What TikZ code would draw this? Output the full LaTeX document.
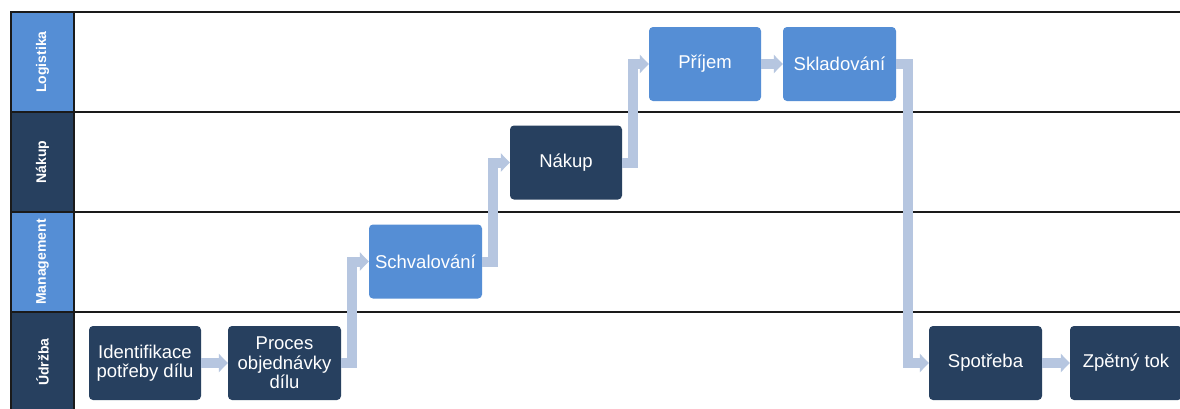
\documentclass[tikz,border=0pt]{standalone}
\usepackage{fontspec}
\setmainfont{Liberation Sans}
\usetikzlibrary{arrows.meta,calc}
\definecolor{laneDark}{HTML}{27405F}
\definecolor{laneLight}{HTML}{558ED5}
\definecolor{flowBlue}{HTML}{B6C6E0}
\definecolor{laneRule}{HTML}{1A1A1A}
\begin{document}
\begin{tikzpicture}[x=1pt,y=-1pt,
  lanehead/.style={rotate=90, draw=laneRule, line width=1.5pt, minimum width=100pt,
    minimum height=63pt, inner sep=0pt, text=white, font=\fontsize{14}{16}\selectfont\bfseries},
  laneline/.style={draw=laneRule, line width=1.8pt},
  stepbox/.style={rounded corners=4pt, minimum width=113pt, minimum height=74pt,
    inner sep=0pt, text=white, align=center, font=\fontsize{18.5}{19.5}\selectfont},
  darkbox/.style={stepbox, fill=laneDark},
  lightbox/.style={stepbox, fill=laneLight},
  flow/.style={draw=flowBlue, line width=10pt, line join=miter,
    -{Triangle[width=18pt,length=9pt]}}]
\clip (0,0) rectangle (1180,408);
\fill[white] (0,0) rectangle (1180,408);

% swimlane rules
\draw[laneline] (10,12) -- (1182,12);
\draw[laneline] (10,112) -- (1182,112);
\draw[laneline] (10,212) -- (1182,212);
\draw[laneline] (10,312) -- (1182,312);

% lane headers
\node[lanehead, fill=laneLight] (hLog) at (42.5,62) {Logistika};
\node[lanehead, fill=laneDark]  (hNak) at (42.5,162) {Nákup};
\node[lanehead, fill=laneLight] (hMan) at (42.5,262) {Management};
\node[lanehead, fill=laneDark]  (hUdr) at (42.5,362) {Údržba};

% process steps
\node[darkbox, minimum width=112pt] (ident) at (145,363) {Identifikace\\potřeby dílu};
\node[darkbox]  (proces)   at (284.5,363) {Proces\\objednávky\\dílu};
\node[lightbox] (schval)   at (425.5,261.5) {Schvalování};
\node[darkbox, minimum width=112pt] (nakup) at (566,162.5) {Nákup};
\node[lightbox, minimum width=112pt] (prijem) at (705,64) {Příjem};
\node[lightbox] (sklad)    at (839.5,64) {Skladování};
\node[darkbox]  (spotreba) at (985.5,363) {Spotřeba};
\node[darkbox, minimum width=112pt] (zpet) at (1126,363) {Zpětný tok};

% flow connectors
\draw[flow] (ident.east) -- (proces.west);
\draw[flow] (proces.east) -- ++(11,0) |- (schval.west);
\draw[flow] (schval.east) -- ++(11,0) |- (nakup.west);
\draw[flow] (nakup.east) -- ++(11,0) |- (prijem.west);
\draw[flow] (prijem.east) -- (sklad.west);
\draw[flow] (sklad.east) -- ++(12,0) |- (spotreba.west);
\draw[flow] (spotreba.east) -- (zpet.west);
\end{tikzpicture}
\end{document}
